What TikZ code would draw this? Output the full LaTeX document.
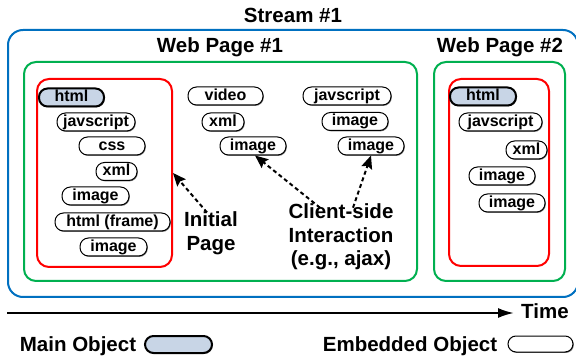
\documentclass[tikz,border=0pt]{standalone}
\usepackage{fontspec}
\setmainfont{Liberation Sans}
\usetikzlibrary{arrows.meta,shadows}
\definecolor{streamblue}{RGB}{0,112,192}
\definecolor{pagegreen}{RGB}{0,176,80}
\definecolor{mainfill}{RGB}{200,213,230}
\begin{document}
\begin{tikzpicture}[x=1pt,y=-1pt,
 obj/.style={draw=black, fill=white, line width=1pt, rounded corners=8.5pt, minimum height=18pt, inner sep=0pt,
   text height=11.5pt, text depth=3pt, font=\fontsize{16}{18}\selectfont\bfseries,
   drop shadow={shadow xshift=0.8pt, shadow yshift=-0.9pt, fill=black!55, opacity=1}},
 mainobj/.style={obj, fill=mainfill, line width=2pt},
 big/.style={font=\fontsize{20.5}{23.5}\selectfont\bfseries, align=center, inner sep=0pt},
 frame/.style={line width=2pt, rounded corners=12pt, inner sep=0pt},
 ptr/.style={line width=2pt, dash pattern=on 4pt off 3pt, -{Stealth[length=13pt,width=11pt,inset=2pt]}}
]
\useasboundingbox (0,0) rectangle (576,358);
% frames
\node[frame, draw=streamblue, rounded corners=15pt, minimum width=570pt, minimum height=267pt] (stream) at (293,163.5) {};
\node[frame, draw=pagegreen, minimum width=393pt, minimum height=219pt] (page1) at (220.5,171.5) {};
\node[frame, draw=pagegreen, minimum width=131pt, minimum height=219pt] (page2) at (499.5,171.5) {};
\node[frame, draw=red, minimum width=135pt, minimum height=188pt] (init1) at (104.5,173) {};
\node[frame, draw=red, minimum width=100pt, minimum height=187pt] (init2) at (499,172.5) {};
% titles
\node[big, anchor=base] (streamlbl) at (293,23) {Stream \#1};
\node[big, anchor=base] (page1lbl) at (220,53) {Web Page \#1};
\node[big, anchor=base] (page2lbl) at (500,53) {Web Page \#2};
% page 1 initial objects
\node[mainobj, minimum width=65pt] (a1) at (71.5,97.5) {html};
\node[obj, minimum width=78pt] (a2) at (96,122) {javscript};
\node[obj, minimum width=66pt] (a3) at (112,146) {css};
\node[obj, minimum width=41pt] (a4) at (116.5,171.5) {xml};
\node[obj, minimum width=67pt] (a5) at (95.5,196) {image};
\node[obj, minimum width=115pt] (a6) at (112.5,222) {html (frame)};
\node[obj, minimum width=67pt] (a7) at (113.5,247) {image};
% page 1 middle column
\node[obj, minimum width=75pt] (m1) at (225.5,96) {video};
\node[obj, minimum width=42pt] (m2) at (223,122) {xml};
\node[obj, minimum width=66pt] (m3) at (253,146) {image};
% page 1 right column
\node[obj, minimum width=88pt] (r1) at (347,96) {javscript};
\node[obj, minimum width=66pt] (r2) at (355,121.5) {image};
\node[obj, minimum width=66pt] (r3) at (371,146) {image};
% page 2
\node[mainobj, minimum width=66pt] (b1) at (483,96.5) {html};
\node[obj, minimum width=83pt] (b2) at (500.5,122) {javscript};
\node[obj, minimum width=41pt] (b3) at (526.5,150) {xml};
\node[obj, minimum width=66pt] (b4) at (502,176) {image};
\node[obj, minimum width=66pt] (b5) at (512,203) {image};
% labels and pointers
\node[big] (initlbl) at (211,233) {Initial\\Page};
\node[big] (clientlbl) at (341,237) {Client-side\\Interaction\\(e.g., ajax)};
\draw[ptr] ([xshift=-4pt,yshift=-1pt]initlbl.north) -- (init1.east);
\draw[ptr] ([xshift=-21pt,yshift=-4pt]clientlbl.north) -- ([xshift=2pt]m3.south);
\draw[ptr] ([xshift=12pt,yshift=-4pt]clientlbl.north) -- (r3.south);
% time axis
\coordinate (t0) at (7,313);
\node[big, anchor=base west, inner sep=0pt] (time) at (521,319) {Time};
\draw[line width=2pt, -{Latex[length=16pt,width=10pt]}] (t0) -- ([xshift=-7pt]time.west |- t0);
% legend
\node[big, anchor=base] (mainlbl) at (78,351) {Main Object};
\node[mainobj, minimum width=67pt, minimum height=17pt] (mainleg) at (178.5,344.5) {};
\node[big, anchor=base] (emblbl) at (410,351) {Embedded Object};
\node[obj, minimum width=65pt, minimum height=16pt, rounded corners=8pt] (embleg) at (540.5,344) {};
\end{tikzpicture}
\end{document}
